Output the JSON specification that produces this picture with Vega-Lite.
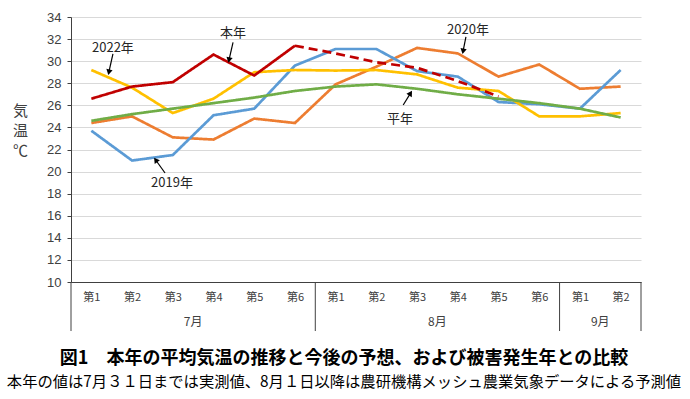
{
  "$schema": "https://vega.github.io/schema/vega-lite/v6.json",
  "width": 570,
  "height": 265,
  "autosize": "none",
  "padding": {"left": 71, "top": 17, "right": 49, "bottom": 117},
  "background": "white",
  "config": {"view": {"stroke": null}, "font": "Noto Sans CJK JP"},
  "title": {
    "text": "図1　本年の平均気温の推移と今後の予想、および被害発生年との比較",
    "subtitle": "本年の値は7月３１日までは実測値、8月１日以降は農研機構メッシュ農業気象データによる予測値",
    "orient": "bottom",
    "anchor": "middle",
    "dx": -12,
    "offset": 18,
    "font": "Noto Sans CJK JP",
    "fontSize": 18,
    "fontWeight": "bold",
    "color": "#000000",
    "subtitleFont": "Noto Sans CJK JP",
    "subtitleFontSize": 15.3,
    "subtitleColor": "#000000",
    "subtitlePadding": 7
  },
  "datasets": {
    "temps": [
      {"series": "2020年", "part": "実測", "w": 1, "temp": 24.4},
      {"series": "2020年", "part": "実測", "w": 2, "temp": 25.0},
      {"series": "2020年", "part": "実測", "w": 3, "temp": 23.1},
      {"series": "2020年", "part": "実測", "w": 4, "temp": 22.9},
      {"series": "2020年", "part": "実測", "w": 5, "temp": 24.8},
      {"series": "2020年", "part": "実測", "w": 6, "temp": 24.4},
      {"series": "2020年", "part": "実測", "w": 7, "temp": 27.9},
      {"series": "2020年", "part": "実測", "w": 8, "temp": 29.5},
      {"series": "2020年", "part": "実測", "w": 9, "temp": 31.2},
      {"series": "2020年", "part": "実測", "w": 10, "temp": 30.7},
      {"series": "2020年", "part": "実測", "w": 11, "temp": 28.6},
      {"series": "2020年", "part": "実測", "w": 12, "temp": 29.7},
      {"series": "2020年", "part": "実測", "w": 13, "temp": 27.5},
      {"series": "2020年", "part": "実測", "w": 14, "temp": 27.7},
      {"series": "2019年", "part": "実測", "w": 1, "temp": 23.7},
      {"series": "2019年", "part": "実測", "w": 2, "temp": 21.0},
      {"series": "2019年", "part": "実測", "w": 3, "temp": 21.5},
      {"series": "2019年", "part": "実測", "w": 4, "temp": 25.1},
      {"series": "2019年", "part": "実測", "w": 5, "temp": 25.7},
      {"series": "2019年", "part": "実測", "w": 6, "temp": 29.6},
      {"series": "2019年", "part": "実測", "w": 7, "temp": 31.1},
      {"series": "2019年", "part": "実測", "w": 8, "temp": 31.1},
      {"series": "2019年", "part": "実測", "w": 9, "temp": 29.1},
      {"series": "2019年", "part": "実測", "w": 10, "temp": 28.6},
      {"series": "2019年", "part": "実測", "w": 11, "temp": 26.3},
      {"series": "2019年", "part": "実測", "w": 12, "temp": 26.1},
      {"series": "2019年", "part": "実測", "w": 13, "temp": 25.7},
      {"series": "2019年", "part": "実測", "w": 14, "temp": 29.2},
      {"series": "2022年", "part": "実測", "w": 1, "temp": 29.2},
      {"series": "2022年", "part": "実測", "w": 2, "temp": 27.6},
      {"series": "2022年", "part": "実測", "w": 3, "temp": 25.3},
      {"series": "2022年", "part": "実測", "w": 4, "temp": 26.6},
      {"series": "2022年", "part": "実測", "w": 5, "temp": 29.0},
      {"series": "2022年", "part": "実測", "w": 6, "temp": 29.2},
      {"series": "2022年", "part": "実測", "w": 7, "temp": 29.15},
      {"series": "2022年", "part": "実測", "w": 8, "temp": 29.2},
      {"series": "2022年", "part": "実測", "w": 9, "temp": 28.8},
      {"series": "2022年", "part": "実測", "w": 10, "temp": 27.6},
      {"series": "2022年", "part": "実測", "w": 11, "temp": 27.3},
      {"series": "2022年", "part": "実測", "w": 12, "temp": 25.0},
      {"series": "2022年", "part": "実測", "w": 13, "temp": 25.0},
      {"series": "2022年", "part": "実測", "w": 14, "temp": 25.3},
      {"series": "平年", "part": "実測", "w": 1, "temp": 24.6},
      {"series": "平年", "part": "実測", "w": 2, "temp": 25.2},
      {"series": "平年", "part": "実測", "w": 3, "temp": 25.7},
      {"series": "平年", "part": "実測", "w": 4, "temp": 26.2},
      {"series": "平年", "part": "実測", "w": 5, "temp": 26.7},
      {"series": "平年", "part": "実測", "w": 6, "temp": 27.3},
      {"series": "平年", "part": "実測", "w": 7, "temp": 27.7},
      {"series": "平年", "part": "実測", "w": 8, "temp": 27.9},
      {"series": "平年", "part": "実測", "w": 9, "temp": 27.5},
      {"series": "平年", "part": "実測", "w": 10, "temp": 27.0},
      {"series": "平年", "part": "実測", "w": 11, "temp": 26.6},
      {"series": "平年", "part": "実測", "w": 12, "temp": 26.2},
      {"series": "平年", "part": "実測", "w": 13, "temp": 25.7},
      {"series": "平年", "part": "実測", "w": 14, "temp": 24.9},
      {"series": "本年", "part": "実測", "w": 1, "temp": 26.6},
      {"series": "本年", "part": "実測", "w": 2, "temp": 27.7},
      {"series": "本年", "part": "実測", "w": 3, "temp": 28.1},
      {"series": "本年", "part": "実測", "w": 4, "temp": 30.6},
      {"series": "本年", "part": "実測", "w": 5, "temp": 28.7},
      {"series": "本年", "part": "実測", "w": 6, "temp": 31.4},
      {"series": "本年", "part": "予測", "w": 6, "temp": 31.4},
      {"series": "本年", "part": "予測", "w": 7, "temp": 30.7},
      {"series": "本年", "part": "予測", "w": 8, "temp": 29.9},
      {"series": "本年", "part": "予測", "w": 9, "temp": 29.4},
      {"series": "本年", "part": "予測", "w": 10, "temp": 28.2},
      {"series": "本年", "part": "予測", "w": 11, "temp": 26.8}
    ],
    "notes": [
      {"label": "2022年", "lx": 1.53, "ly": 31.2, "tx": 1.53, "ty": 30.65, "hx": 1.43, "hy": 29.0},
      {"label": "本年", "lx": 4.48, "ly": 32.55, "tx": 4.48, "ty": 31.7, "hx": 4.38, "hy": 30.1},
      {"label": "2019年", "lx": 2.98, "ly": 18.96, "tx": 2.81, "ty": 19.87, "hx": 2.58, "hy": 21.05},
      {"label": "2020年", "lx": 10.25, "ly": 32.8, "tx": 10.2, "ty": 32.2, "hx": 10.13, "hy": 30.9},
      {"label": "平年", "lx": 8.58, "ly": 24.76, "tx": 8.66, "ty": 26.03, "hx": 8.84, "hy": 27.1}
    ],
    "months": [
      {"month": "7月", "mid": 3.5},
      {"month": "8月", "mid": 9.5},
      {"month": "9月", "mid": 13.5}
    ],
    "dividers": [{"at": 0.5}, {"at": 6.5}, {"at": 12.5}, {"at": 14.5}]
  },
  "layer": [
    {
      "data": {"name": "temps"},
      "mark": {"type": "line", "strokeWidth": 2.7, "strokeJoin": "miter", "clip": false},
      "encoding": {
        "x": {
          "field": "w",
          "type": "quantitative",
          "scale": {"domain": [0.5, 14.5], "nice": false, "zero": false},
          "axis": {
            "values": [1, 2, 3, 4, 5, 6, 7, 8, 9, 10, 11, 12, 13, 14],
            "labelExpr": "'第' + (datum.value <= 6 ? datum.value : (datum.value <= 12 ? datum.value - 6 : datum.value - 12))",
            "grid": false,
            "ticks": false,
            "domainColor": "#404040",
            "domainWidth": 1,
            "labelFont": "Noto Sans CJK JP",
            "labelFontSize": 11,
            "labelColor": "#404040",
            "labelPadding": 9,
            "labelFlush": false,
            "labelOverlap": false,
            "title": null
          }
        },
        "y": {
          "field": "temp",
          "type": "quantitative",
          "scale": {"domain": [10, 34], "nice": false, "zero": false},
          "axis": {
            "values": [10, 12, 14, 16, 18, 20, 22, 24, 26, 28, 30, 32, 34],
            "tickCount": 13,
            "grid": true,
            "gridColor": "#d9d9d9",
            "gridWidth": 1,
            "domainColor": "#404040",
            "tickColor": "#404040",
            "tickSize": 4,
            "labelFont": "Liberation Sans",
            "labelFontSize": 13,
            "labelColor": "#404040",
            "labelPadding": 6,
            "labelOverlap": false,
            "labelFlush": false,
            "title": ["気", "温", "℃"],
            "titleAngle": 0,
            "titleAlign": "center",
            "titleBaseline": "middle",
            "titleX": -51,
            "titleY": 93,
            "titleLineHeight": 20,
            "titleFont": "Noto Sans CJK JP",
            "titleFontSize": 15,
            "titleFontWeight": "normal",
            "titleColor": "#404040"
          }
        },
        "color": {
          "field": "series",
          "type": "nominal",
          "scale": {
            "domain": ["2020年", "2019年", "2022年", "平年", "本年"],
            "range": ["#ED7D31", "#5B9BD5", "#FFC000", "#70AD47", "#C00000"]
          },
          "legend": null
        },
        "strokeDash": {
          "field": "part",
          "type": "nominal",
          "scale": {"domain": ["実測", "予測"], "range": [[1, 0], [9, 5]]},
          "legend": null
        }
      }
    },
    {
      "data": {"name": "dividers"},
      "mark": {"type": "rule", "color": "#404040", "strokeWidth": 1, "clip": false},
      "encoding": {
        "x": {"field": "at", "type": "quantitative"},
        "y": {"datum": 10, "type": "quantitative"},
        "y2": {"datum": 5.56}
      }
    },
    {
      "data": {"name": "months"},
      "mark": {"type": "text", "font": "Noto Sans CJK JP", "fontSize": 12, "color": "#404040", "baseline": "middle", "align": "center", "clip": false},
      "encoding": {
        "x": {"field": "mid", "type": "quantitative"},
        "y": {"datum": 6.37, "type": "quantitative"},
        "text": {"field": "month"}
      }
    },
    {
      "data": {"name": "notes"},
      "mark": {"type": "rule", "color": "#000000", "strokeWidth": 1.2},
      "encoding": {
        "x": {"field": "tx", "type": "quantitative"},
        "y": {"field": "ty", "type": "quantitative"},
        "x2": {"field": "hx"},
        "y2": {"field": "hy"}
      }
    },
    {
      "data": {"name": "notes"},
      "transform": [
        {"calculate": "atan2((datum.hx - datum.tx) * 40.71, (datum.hy - datum.ty) * 11.04) * 180 / PI", "as": "dir"}
      ],
      "mark": {"type": "point", "shape": "triangle-up", "filled": true, "color": "#000000", "size": 40, "opacity": 1},
      "encoding": {
        "x": {"field": "hx", "type": "quantitative"},
        "y": {"field": "hy", "type": "quantitative"},
        "angle": {"field": "dir", "type": "quantitative", "scale": {"domain": [-360, 360], "range": [-360, 360]}}
      }
    },
    {
      "data": {"name": "notes"},
      "mark": {"type": "text", "font": "Noto Sans CJK JP", "fontSize": 13, "color": "#262626", "baseline": "middle", "align": "center"},
      "encoding": {
        "x": {"field": "lx", "type": "quantitative"},
        "y": {"field": "ly", "type": "quantitative"},
        "text": {"field": "label"}
      }
    }
  ]
}
